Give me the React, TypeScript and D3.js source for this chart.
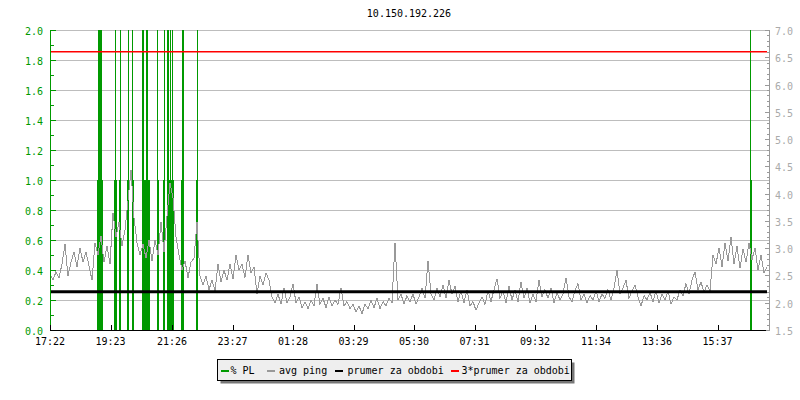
import React from 'react';
import * as d3 from 'd3';

const TITLE = '10.150.192.226';
const xTickLabels = ['17:22', '19:23', '21:26', '23:27', '01:28', '03:29', '05:30', '07:31', '09:32', '11:34', '13:36', '15:37'];
const xTickMinutes = [0, 121, 244, 365, 486, 607, 728, 849, 970, 1092, 1214, 1335];
const totalMinutes = 1434;
const pingStepMin = 6;
// avg ping (ms, right axis), one sample every 6 minutes
const avgPing = [
  2.52, 2.41, 2.57, 2.46, 2.71, 3.07, 2.49, 2.74, 2.93, 2.66, 3.01, 2.74, 2.93, 2.68, 2.41, 3.10,
  2.88, 3.23, 2.74, 3.04, 2.71, 3.65, 3.21, 3.48, 3.04, 3.34, 3.87, 4.44, 3.56, 3.10, 2.88, 3.07,
  2.82, 3.15, 2.77, 3.15, 2.88, 3.48, 2.93, 3.59, 4.20, 3.92, 3.21, 2.88, 2.60, 2.77, 2.46, 2.74,
  2.82, 3.48, 2.49, 2.33, 2.49, 2.24, 2.41, 2.22, 2.71, 2.38, 2.60, 2.41, 2.71, 2.44, 2.88, 2.60,
  2.71, 2.46, 2.88, 2.55, 2.66, 2.16, 2.49, 2.33, 2.55, 2.41, 2.11, 2.00, 2.16, 1.97, 2.27, 2.00,
  2.11, 2.35, 2.00, 2.11, 1.91, 2.02, 1.89, 2.05, 1.94, 2.35, 1.97, 2.08, 1.91, 2.11, 1.94, 2.05,
  1.97, 2.27, 1.94, 2.02, 1.89, 1.97, 1.83, 1.94, 1.80, 1.97, 1.89, 2.05, 1.91, 2.08, 1.89, 2.02,
  1.94, 2.08, 2.00, 3.10, 2.05, 2.16, 1.97, 2.13, 2.02, 2.16, 1.97, 2.11, 2.27, 2.08, 2.77, 2.16,
  2.05, 2.27, 2.11, 2.33, 2.08, 2.41, 2.16, 2.30, 2.02, 2.22, 2.00, 2.24, 1.94, 2.02, 1.86, 2.00,
  2.11, 1.97, 2.22, 2.02, 2.24, 2.44, 2.08, 2.22, 2.00, 2.30, 2.05, 2.24, 2.02, 2.38, 2.08, 2.27,
  2.00, 2.16, 2.02, 2.41, 2.11, 2.24, 2.08, 2.27, 2.00, 2.19, 2.05, 2.16, 2.46, 2.11, 2.02, 2.22,
  2.35, 2.05, 2.16, 2.00, 2.13, 2.05, 2.22, 2.02, 2.16, 2.08, 2.24, 2.05, 2.27, 2.60, 2.16, 2.27,
  2.41, 2.08, 2.22, 2.33, 2.11, 1.94, 2.13, 2.05, 2.19, 2.02, 2.22, 2.00, 2.16, 2.05, 2.22, 1.97,
  2.11, 2.05, 2.24, 2.13, 2.35, 2.16, 2.41, 2.57, 2.24, 2.38, 2.19, 2.33, 2.22, 2.88, 2.71, 3.01,
  2.66, 3.10, 2.77, 3.21, 2.71, 3.04, 2.63, 2.99, 2.74, 3.10, 2.79, 3.01, 2.60, 2.88, 2.55, 2.66,
];
// % packet loss samples (minute offset, percent), 2-minute columns
const plMinutes = [
  94, 96, 98, 100, 102, 104,
  128, 130, 132,
  138, 140,
  154, 156,
  164, 166,
  184, 186, 188, 190, 192, 194, 196, 198,
  214, 216,
  226, 228,
  234, 236, 238, 240, 242, 244, 246,
  262, 264, 266,
  292, 294,
  1400, 1402,
];
const plValues = [
  1, 3, 3, 3, 3, 1,
  1, 3, 1,
  1, 3,
  1, 3,
  3, 1,
  3, 3, 1, 1, 3, 3, 1, 1,
  3, 1,
  1, 3,
  3, 3, 1, 3, 1, 3, 1,
  1, 3, 3,
  1, 3,
  3, 1,
];
const prumer = 2.2;
const prumer3 = 6.6;
const legendLabels = ['% PL', 'avg ping', 'prumer za obdobi', '3*prumer za obdobi'];
const legendColors = ['#009900', '#999999', '#000000', '#ff0000'];

const FONT = '"DejaVu Sans Mono", monospace';

export default function App() {
  const left = 50, right = 770, top = 30, bottom = 330;
  const x = d3.scaleLinear().domain([0, totalMinutes]).range([left, 767]);
  const yL = d3.scaleLinear().domain([0, 2]).range([bottom, top]).clamp(true);
  const yR = d3.scaleLinear().domain([1.5, 7]).range([bottom, top]);

  const leftMajor = d3.range(0, 2.0001, 0.2);
  const leftMinor = d3.range(0.1, 2, 0.2);
  const rightMajor = d3.range(1.5, 7.0001, 0.5);
  const rightMinor = d3.range(1.6, 7, 0.1).filter((v) => Math.abs(v * 2 - Math.round(v * 2)) > 0.01);

  const line = d3
    .line<number>()
    .x((_, i) => x(i * pingStepMin))
    .y((d) => yR(d));

  const legendSwatchX = [221, 267, 335, 451];
  const legendTextX = [230.5, 279, 347.5, 461.5];

  return (
    <svg width={800} height={400} style={{ position: 'absolute', left: 0, top: 0, background: '#fff' }} fontFamily={FONT}>
      <rect x={0} y={0} width={800} height={400} fill="#fff" />
      <text x={409} y={17} fontSize={10} textAnchor="middle" fill="#000">{TITLE}</text>

      {/* grid */}
      {leftMajor.filter((v) => v > 0.01).map((v) => (
        <line key={'g' + v} x1={left} x2={right} y1={Math.round(yL(v)) + 0.5} y2={Math.round(yL(v)) + 0.5} stroke="#bdbdbd" strokeWidth={1} />
      ))}

      {/* % PL */}
      {plMinutes.map((m, i) => {
        const x0 = x(m);
        const y0 = yL(plValues[i]);
        return <rect key={'pl' + i} x={x0} y={y0} width={x(m + 2) - x0} height={bottom - y0} fill="#009900" />;
      })}

      {/* avg ping */}
      <path d={line(avgPing) || ''} fill="none" stroke="#999999" strokeWidth={1} shapeRendering="crispEdges" />

      {/* averages */}
      <line x1={left} x2={767} y1={yR(prumer)} y2={yR(prumer)} stroke="#000" strokeWidth={3} />
      <line x1={left} x2={767} y1={yR(prumer3)} y2={yR(prumer3)} stroke="#ff0000" strokeWidth={1.6} />

      {/* left axis */}
      <line x1={left + 0.5} x2={left + 0.5} y1={top} y2={bottom} stroke="#009900" />
      {leftMajor.map((v) => (
        <g key={'lt' + v}>
          <line x1={left} x2={left + 6} y1={Math.round(yL(v)) + 0.5} y2={Math.round(yL(v)) + 0.5} stroke="#009900" />
          <text x={43} y={yL(v) + 5} fontSize={10} textAnchor="end" fill="#009900">{v.toFixed(1)}</text>
        </g>
      ))}
      {leftMinor.map((v) => (
        <line key={'lm' + v} x1={left} x2={left + 4} y1={Math.round(yL(v)) + 0.5} y2={Math.round(yL(v)) + 0.5} stroke="#009900" />
      ))}

      {/* right axis */}
      <line x1={right - 0.5} x2={right - 0.5} y1={top} y2={bottom} stroke="#999999" />
      {rightMajor.map((v) => (
        <g key={'rt' + v}>
          <line x1={right - 5} x2={right} y1={Math.round(yR(v)) + 0.5} y2={Math.round(yR(v)) + 0.5} stroke="#999999" />
          <text x={775} y={yR(v) + 5} fontSize={10} fill="#aaaaaa">{v.toFixed(1)}</text>
        </g>
      ))}
      {rightMinor.map((v) => (
        <line key={'rm' + v.toFixed(1)} x1={right - 3} x2={right} y1={Math.round(yR(v)) + 0.5} y2={Math.round(yR(v)) + 0.5} stroke="#999999" />
      ))}

      {/* bottom axis */}
      <line x1={left} x2={766} y1={bottom + 0.5} y2={bottom + 0.5} stroke="#000" />
      {xTickMinutes.map((m, i) => (
        <g key={'xt' + i}>
          <line x1={Math.round(x(m)) + 0.5} x2={Math.round(x(m)) + 0.5} y1={bottom - 5} y2={bottom} stroke="#000" />
          <text x={x(m)} y={345} fontSize={10} textAnchor="middle" fill="#000">{xTickLabels[i]}</text>
        </g>
      ))}

      {/* legend */}
      <rect x={220.5} y={362.5} width={354} height={21} fill="#777" />
      <rect x={217.5} y={359.5} width={354} height={21} fill="#eeeeee" stroke="#000" />
      {legendLabels.map((l, i) => (
        <g key={'lg' + i}>
          <rect x={legendSwatchX[i]} y={370} width={8} height={2} fill={legendColors[i]} />
          <text x={legendTextX[i]} y={374} fontSize={10} fill="#000">{l}</text>
        </g>
      ))}
    </svg>
  );
}
